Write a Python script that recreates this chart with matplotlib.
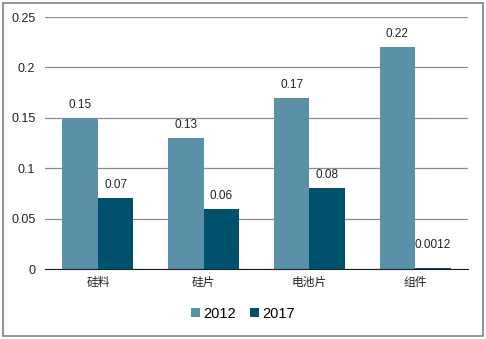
import numpy as np
import matplotlib.pyplot as plt
from matplotlib.patches import Rectangle

plt.rcParams['font.family'] = ['Liberation Sans', 'Noto Sans CJK SC', 'DejaVu Sans']

categories = ['硅料', '硅片', '电池片', '组件']
years = ['2012', '2017']
v2012 = [0.15, 0.13, 0.17, 0.22]
v2017 = [0.07, 0.06, 0.08, 0.0012]
labels2012 = ['0.15', '0.13', '0.17', '0.22']
labels2017 = ['0.07', '0.06', '0.08', '0.0012']

c2012 = '#5b91a8'
c2017 = '#00516b'

fig = plt.figure(figsize=(4.86, 3.39), dpi=100)
fig.patches.append(Rectangle((3 / 486, 3 / 339), 480 / 486, 333 / 339,
                             transform=fig.transFigure, fill=False,
                             edgecolor='#808080', linewidth=1.2))
ax = fig.add_axes([45 / 486, 1 - 269 / 339, 423 / 486, 252 / 339])

x = np.arange(len(categories))
w = 0.335
b1 = ax.bar(x - w / 2, v2012, w, color=c2012, label=years[0], zorder=3)
b2 = ax.bar(x + w / 2, v2017, w, color=c2017, label=years[1], zorder=3)

for bars, texts in ((b1, labels2012), (b2, labels2017)):
    for rect, txt in zip(bars, texts):
        # tiny bars get their label lifted a bit more
        off = 12 if rect.get_height() < 0.01 else 5
        ax.annotate(txt, (rect.get_x() + rect.get_width() / 2, rect.get_height()),
                    xytext=(0, off), textcoords='offset points',
                    ha='center', va='bottom', fontsize=8.5, color='#222222')

ax.set_xlim(-0.5, len(categories) - 0.5)
ax.set_ylim(0, 0.25)
yt = [0, 0.05, 0.1, 0.15, 0.2, 0.25]
ax.set_yticks(yt)
ax.set_yticklabels(['0', '0.05', '0.1', '0.15', '0.2', '0.25'])
ax.yaxis.grid(True, color='#8c8c8c', linewidth=0.9, zorder=0)
ax.set_xticks(x)
ax.set_xticklabels(categories, fontname='Noto Sans CJK SC', fontsize=8.5)
ax.tick_params(axis='y', length=0, labelsize=9, colors='#222222', pad=7)
ax.tick_params(axis='x', length=0, colors='#222222', pad=5)
for s in ['top', 'right', 'left']:
    ax.spines[s].set_visible(False)
ax.spines['bottom'].set_color('#222222')
ax.spines['bottom'].set_zorder(4)

fig.legend(loc='center', bbox_to_anchor=(0.5, 1 - 314 / 339), ncol=2,
           frameon=False, fontsize=10.5, handlelength=0.6, handleheight=0.6,
           handletextpad=0.2, columnspacing=1.0)

fig.savefig('out.png', dpi=100)
